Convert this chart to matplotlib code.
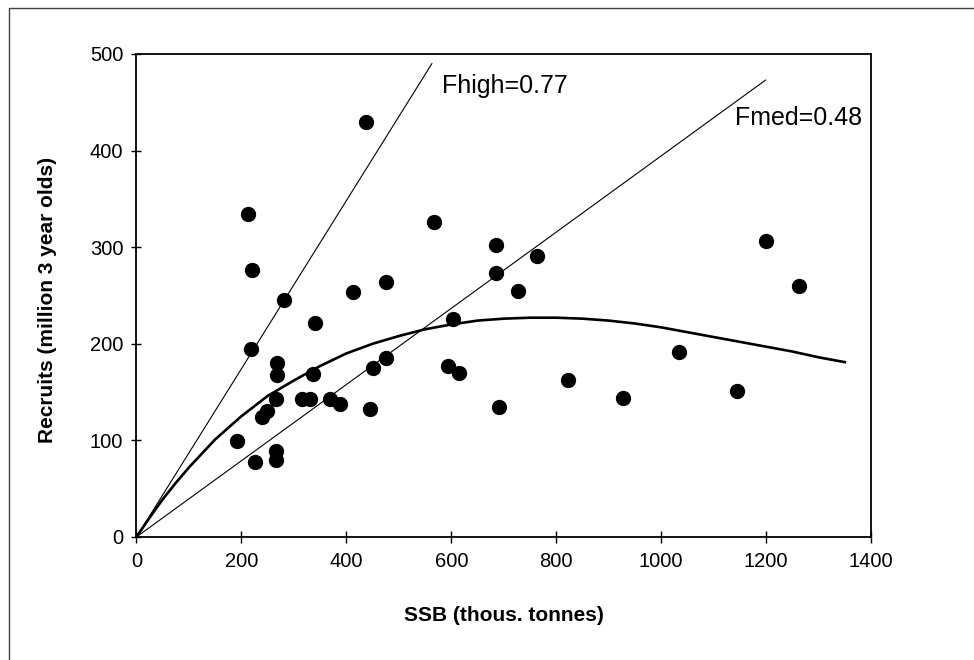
import matplotlib
matplotlib.use("Agg")
import matplotlib.pyplot as plt
from matplotlib.lines import Line2D

plt.rcParams['font.family'] = ['Liberation Sans', 'DejaVu Sans']

ssb = [213, 221, 282, 218, 437, 413, 475, 340, 568, 685, 685, 763, 728, 603,
       1199, 1262, 1034, 267, 267, 337, 451, 475, 594, 615, 265, 248, 239,
       315, 330, 369, 388, 446, 191, 265, 265, 226, 690, 823, 927, 1145]
recruits = [334, 276, 245, 195, 430, 254, 264, 222, 326, 302, 273, 291, 255, 226,
            306, 260, 192, 180, 168, 169, 175, 185, 177, 170, 143, 130, 124,
            143, 143, 143, 138, 132, 99, 89, 80, 78, 135, 163, 144, 151]

# fitted stock-recruit curve, read at SSB steps along the drawn line
curve_ssb = [0, 25, 50, 75, 100, 150, 200, 250, 300, 350, 400, 450, 500, 550,
             600, 650, 700, 750, 800, 850, 900, 950, 1000, 1050, 1100, 1150,
             1200, 1250, 1300, 1350]
curve_rec = [0, 20, 39, 56, 72, 101, 125, 146, 162, 177, 190, 200, 208, 215,
             220, 224, 226, 227, 227, 226, 224, 221, 217, 212, 207, 202,
             197, 192, 186, 181]

# replacement lines
fhigh_ssb = [0, 563]
fhigh_rec = [0, 490]
fmed_ssb = [0, 1199]
fmed_rec = [0, 473]

fig = plt.figure(figsize=(9.74, 6.6), dpi=100)
ax = fig.add_axes([0.1401, 0.1864, 0.7542, 0.7318])

ax.plot(fhigh_ssb, fhigh_rec, color='black', lw=0.8)
ax.plot(fmed_ssb, fmed_rec, color='black', lw=0.8)
ax.plot(curve_ssb, curve_rec, color='black', lw=1.9)
ax.scatter(ssb, recruits, s=100, color='black', zorder=3, clip_on=False)

ax.text(582, 460, 'Fhigh=0.77', fontsize=18, va='baseline', ha='left')
ax.text(1141, 426, 'Fmed=0.48', fontsize=18, va='baseline', ha='left')

ax.set_xlim(0, 1400)
ax.set_ylim(0, 500)
ax.set_xticks(range(0, 1401, 200))
ax.set_yticks(range(0, 501, 100))
ax.tick_params(axis='x', direction='inout', length=9, width=1, labelsize=14.5, pad=6)
ax.tick_params(axis='y', direction='inout', length=7, width=1, labelsize=14.5, pad=6)
for sp in ax.spines.values():
    sp.set_linewidth(1.3)

ax.set_xlabel('SSB (thous. tonnes)', fontsize=15, fontweight='bold')
ax.set_ylabel('Recruits (million 3 year olds)', fontsize=15, fontweight='bold')
ax.xaxis.set_label_coords(0.5, -0.143)
ax.yaxis.set_label_coords(-0.108, 0.49)

# outer frame (cropped at right and bottom)
fig.add_artist(Line2D([0.0092, 0.0092, 1.0], [0.0, 0.9879, 0.9879],
                      transform=fig.transFigure, color='0.25', lw=1))

fig.savefig('out.png', dpi=100)
